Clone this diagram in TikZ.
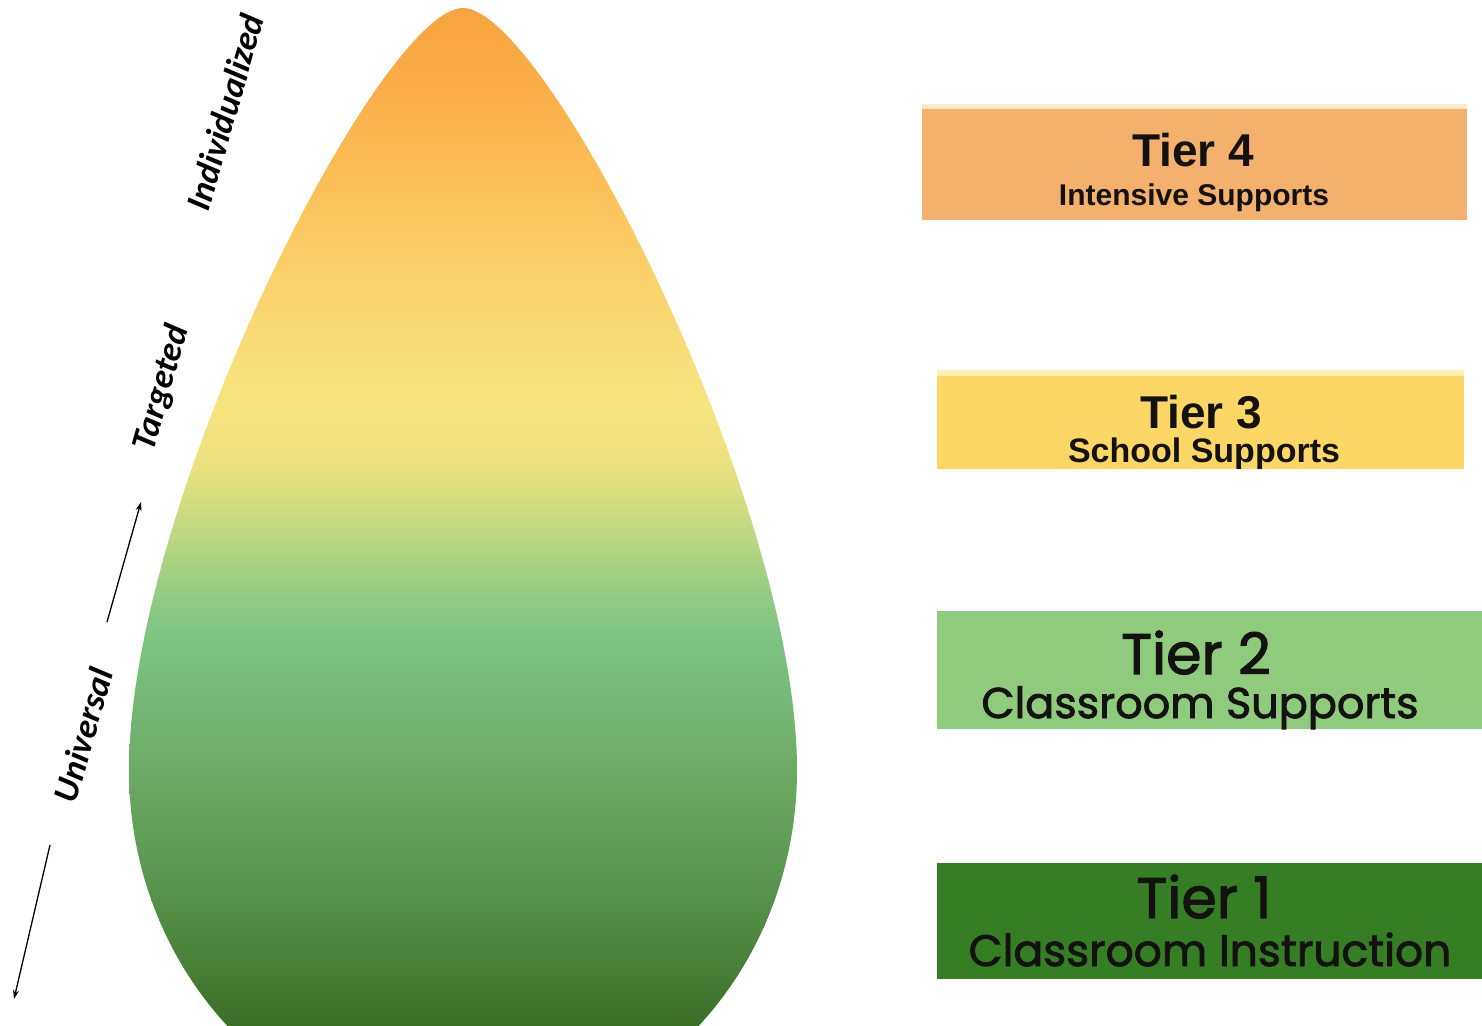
\documentclass[tikz,border=0pt]{standalone}
\usepackage{fontspec}
\setmainfont{Liberation Sans}
\newfontfamily\popfont[FakeBold=2]{Poppins}
\newfontfamily\calfont{Carlito}
\usetikzlibrary{arrows.meta}
\definecolor{s0}{HTML}{F8A13C}
\definecolor{s1}{HTML}{FAB04A}
\definecolor{s2}{HTML}{FBC35B}
\definecolor{s3}{HTML}{FAD56F}
\definecolor{s4}{HTML}{F8E47E}
\definecolor{s5}{HTML}{EDE27E}
\definecolor{s6}{HTML}{C6DA80}
\definecolor{s7}{HTML}{9CCF83}
\definecolor{s8}{HTML}{7EC582}
\definecolor{s9}{HTML}{76B875}
\definecolor{s10}{HTML}{67A55E}
\definecolor{s11}{HTML}{55924A}
\definecolor{s12}{HTML}{3A6F26}
\definecolor{tfour}{HTML}{F4B16D}
\definecolor{tfourtop}{HTML}{FBEBCB}
\definecolor{tthree}{HTML}{FCD765}
\definecolor{tthreetop}{HTML}{FCEFB5}
\definecolor{ttwo}{HTML}{8FCB7C}
\definecolor{tone}{HTML}{367E23}
\definecolor{ink}{HTML}{141210}
\begin{document}
\begin{tikzpicture}[x=1pt,y=-1pt,
  tierbox/.style={draw=none,inner sep=0pt,outer sep=0pt,anchor=north west},
  boldtxt/.style={anchor=base,inner sep=0pt,text=ink,font=\bfseries},
  geotxt/.style={anchor=base,inner sep=0pt,text=ink,font=\popfont},
  sidelbl/.style={rotate=74,inner sep=0pt,text=black,font=\calfont\bfseries\itshape\fontsize{35}{35}\selectfont},
  sidearrow/.style={-{Stealth[length=9pt,width=6pt]},line width=1.3pt,black}]
\useasboundingbox (0,0) rectangle (1482,1025);
% teardrop with vertical gradient
\begin{scope}
  \path[clip] (463,8) .. controls (545,8) and (797,500) .. (797,770)
     .. controls (797,969.4) and (647.5,1131) .. (463,1131)
     .. controls (278.5,1131) and (129,969.4) .. (129,770)
     .. controls (129,500) and (381,8) .. (463,8) -- cycle;
  \shade[top color=s0,bottom color=s1] (0,0) rectangle (1482,100.5);
  \shade[top color=s1,bottom color=s2] (0,100) rectangle (1482,200.5);
  \shade[top color=s2,bottom color=s3] (0,200) rectangle (1482,300.5);
  \shade[top color=s3,bottom color=s4] (0,300) rectangle (1482,400.5);
  \shade[top color=s4,bottom color=s5] (0,400) rectangle (1482,460.5);
  \shade[top color=s5,bottom color=s6] (0,460) rectangle (1482,520.5);
  \shade[top color=s6,bottom color=s7] (0,520) rectangle (1482,580.5);
  \shade[top color=s7,bottom color=s8] (0,580) rectangle (1482,630.5);
  \shade[top color=s8,bottom color=s9] (0,630) rectangle (1482,700.5);
  \shade[top color=s9,bottom color=s10] (0,700) rectangle (1482,800.5);
  \shade[top color=s10,bottom color=s11] (0,800) rectangle (1482,900.5);
  \shade[top color=s11,bottom color=s12] (0,900) rectangle (1482,1025);
\end{scope}
% side labels and arrows
\node[sidelbl] (ind) at (225,112) {Individualized};
\node[sidelbl] (tar) at (162,388) {Targeted};
\node[sidelbl] (uni) at (83,735) {Universal};
\coordinate (upA) at (107,622);
\coordinate (upB) at (141,502);
\coordinate (dnA) at (50,845);
\coordinate (dnB) at (14,999);
\draw[sidearrow] (upA) -- (upB);
\draw[sidearrow] (dnA) -- (dnB);
% tier boxes
\node[tierbox,fill=tfour,minimum width=545pt,minimum height=116pt] (b4) at (922,104) {};
\node[tierbox,fill=tfourtop,minimum width=545pt,minimum height=5pt] (b4t) at (922,104) {};
\node[tierbox,fill=tthree,minimum width=527pt,minimum height=99pt] (b3) at (937,370) {};
\node[tierbox,fill=tthreetop,minimum width=527pt,minimum height=6pt] (b3t) at (937,370) {};
\node[tierbox,fill=ttwo,minimum width=545pt,minimum height=118pt] (b2) at (937,611) {};
\node[tierbox,fill=tone,minimum width=545pt,minimum height=116pt] (b1) at (937,863) {};
% tier texts
\node[boldtxt] (t4a) at (1193,166) {\fontsize{46}{46}\selectfont Tier 4};
\node[boldtxt] (t4b) at (1194,205) {\fontsize{30}{30}\selectfont Intensive Supports};
\node[boldtxt] (t3a) at (1201,428) {\fontsize{46}{46}\selectfont Tier 3};
\node[boldtxt] (t3b) at (1204,462) {\fontsize{34}{34}\selectfont School Supports};
\node[geotxt] (t2a) at (1196,674) {\fontsize{57}{57}\selectfont Tier 2};
\node[geotxt] (t2b) at (1200,718) {\fontsize{43}{43}\selectfont Classroom Supports};
\node[geotxt] (t1a) at (1204,918) {\fontsize{57}{57}\selectfont Tier 1};
\node[geotxt] (t1b) at (1210,966) {\fontsize{44}{44}\selectfont Classroom Instruction};
\end{tikzpicture}
\end{document}
